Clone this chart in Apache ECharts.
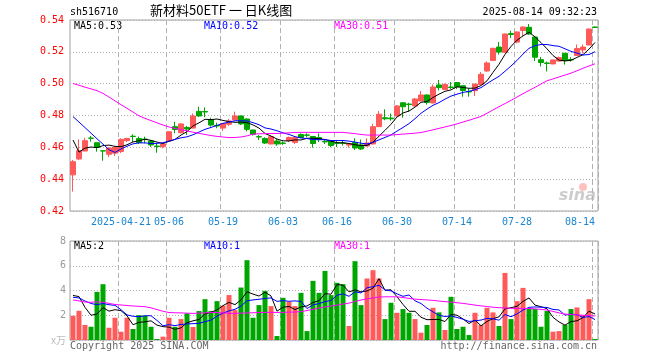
<!DOCTYPE html>
<html><head><meta charset="utf-8">
<script src="https://cdn.jsdelivr.net/npm/echarts@6/dist/echarts.min.js"></script>
<style>html,body{margin:0;padding:0;background:#fff}#c{width:660px;height:360px}</style>
</head><body><div id="c"></div>
<script>
const dates = ['2025-04-09','2025-04-10','2025-04-11','2025-04-14','2025-04-15','2025-04-16','2025-04-17','2025-04-18','2025-04-21','2025-04-22',
'2025-04-23','2025-04-24','2025-04-25','2025-04-28','2025-04-29','2025-04-30','2025-05-06','2025-05-07','2025-05-08','2025-05-09',
'2025-05-12','2025-05-13','2025-05-14','2025-05-15','2025-05-16','2025-05-19','2025-05-20','2025-05-21','2025-05-22','2025-05-23',
'2025-05-26','2025-05-27','2025-05-28','2025-05-29','2025-05-30','2025-06-03','2025-06-04','2025-06-05','2025-06-06','2025-06-09',
'2025-06-10','2025-06-11','2025-06-12','2025-06-13','2025-06-16','2025-06-17','2025-06-18','2025-06-19','2025-06-20','2025-06-23',
'2025-06-24','2025-06-25','2025-06-26','2025-06-27','2025-06-30','2025-07-01','2025-07-02','2025-07-03','2025-07-04','2025-07-07',
'2025-07-08','2025-07-09','2025-07-10','2025-07-11','2025-07-14','2025-07-15','2025-07-16','2025-07-17','2025-07-18','2025-07-21',
'2025-07-22','2025-07-23','2025-07-24','2025-07-25','2025-07-28','2025-07-29','2025-07-30','2025-07-31','2025-08-01','2025-08-04',
'2025-08-05','2025-08-06','2025-08-07','2025-08-08','2025-08-11','2025-08-12','2025-08-13','2025-08-14'];

const tickDates = ['2025-04-21','2025-05-06','2025-05-19','2025-06-03','2025-06-16','2025-06-30','2025-07-14','2025-07-28','2025-08-14'];

const opens = [.4427,.4527,.4577,.4658,.4629,.4578,.4556,.4563,.4574,.4642,
.4670,.4655,.4652,.4640,.4608,.4604,.4640,.4730,.4692,.4725,
.4721,.4826,.4825,.4772,.4737,.4721,.4745,.4772,.4797,.4778,
.4709,.4667,.4655,.4621,.4640,.4627,.4642,.4631,.4681,.4678,
.4668,.4661,.4637,.4640,.4627,.4627,.4614,.4630,.4615,.4608,
.4621,.4730,.4786,.4784,.4797,.4880,.4872,.4860,.4891,.4929,
.4879,.4992,.4963,.4979,.5007,.4987,.4951,.4956,.4995,.5080,
.5146,.5230,.5197,.5315,.5261,.5334,.5354,.5293,.5151,.5130,
.5124,.5142,.5191,.5152,.5177,.5212,.5243,.5356];

const closes = [.4510,.4579,.4642,.4657,.4600,.4577,.4596,.4599,.4650,.4656,
.4668,.4630,.4649,.4615,.4605,.4621,.4698,.4712,.4747,.4715,
.4797,.4797,.4822,.4740,.4734,.4750,.4766,.4797,.4747,.4713,
.4682,.4665,.4627,.4667,.4621,.4625,.4662,.4662,.4662,.4676,
.4624,.4649,.4634,.4612,.4625,.4625,.4624,.4596,.4590,.4627,
.4730,.4808,.4779,.4779,.4860,.4855,.4869,.4904,.4929,.4882,
.4979,.4975,.4995,.4976,.4979,.4957,.4948,.4998,.5059,.5130,
.5222,.5199,.5312,.5309,.5325,.5356,.5312,.5166,.5133,.5127,
.5149,.5164,.5144,.5149,.5221,.5230,.5343,.5353];

const highs = [.4521,.4650,.4660,.4671,.4629,.4578,.4600,.4608,.4657,.4660,
.4682,.4668,.4667,.4643,.4627,.4624,.4700,.4761,.4752,.4734,
.4813,.4855,.4851,.4786,.4755,.4752,.4778,.4824,.4799,.4782,
.4710,.4677,.4663,.4674,.4652,.4637,.4668,.4671,.4688,.4688,
.4670,.4688,.4649,.4643,.4643,.4640,.4627,.4657,.4649,.4657,
.4747,.4828,.4839,.4812,.4866,.4884,.4880,.4910,.4954,.4932,
.4995,.5023,.5001,.5010,.5010,.4990,.4971,.4998,.5073,.5139,
.5226,.5262,.5315,.5332,.5328,.5359,.5375,.5300,.5168,.5139,
.5149,.5170,.5193,.5166,.5246,.5246,.5347,.5359];

const lows = [.4322,.4520,.4575,.4635,.4573,.4516,.4539,.4545,.4564,.4633,
.4633,.4621,.4625,.4602,.4566,.4594,.4637,.4688,.4687,.4677,
.4718,.4791,.4789,.4730,.4720,.4703,.4734,.4770,.4740,.4700,
.4674,.4646,.4621,.4619,.4610,.4615,.4633,.4621,.4657,.4663,
.4598,.4633,.4621,.4600,.4602,.4612,.4598,.4583,.4583,.4605,
.4618,.4727,.4770,.4767,.4795,.4786,.4824,.4857,.4889,.4869,
.4876,.4957,.4960,.4966,.4966,.4918,.4918,.4923,.4992,.5073,
.5143,.5183,.5193,.5287,.5254,.5300,.5306,.5142,.5108,.5077,
.5122,.5138,.5120,.5139,.5175,.5190,.5241,.5350];

const ma5 = [.4646,.4570,.4595,.4602,.4598,.4611,.4614,.4606,.4604,.4616,
.4634,.4641,.4651,.4644,.4633,.4624,.4638,.4650,.4677,.4699,
.4734,.4754,.4776,.4774,.4778,.4769,.4762,.4757,.4759,.4755,
.4741,.4721,.4687,.4671,.4652,.4641,.4640,.4647,.4646,.4657,
.4657,.4655,.4649,.4639,.4629,.4629,.4624,.4616,.4612,.4612,
.4633,.4670,.4707,.4745,.4791,.4816,.4828,.4853,.4883,.4888,
.4913,.4934,.4952,.4961,.4981,.4976,.4971,.4972,.4988,.5018,
.5071,.5122,.5184,.5234,.5273,.5300,.5323,.5294,.5258,.5219,
.5177,.5148,.5143,.5147,.5165,.5182,.5217,.5259];

const ma10 = [.4793,.4759,.4724,.4689,.4654,.4620,.4585,.4568,.4590,.4607,
.4622,.4628,.4628,.4624,.4625,.4629,.4639,.4650,.4660,.4666,
.4679,.4696,.4713,.4725,.4738,.4751,.4758,.4767,.4767,.4766,
.4755,.4742,.4722,.4715,.4704,.4691,.4681,.4667,.4659,.4655,
.4649,.4648,.4648,.4643,.4643,.4643,.4639,.4633,.4626,.4621,
.4631,.4647,.4662,.4678,.4702,.4725,.4749,.4780,.4814,.4840,
.4864,.4881,.4903,.4922,.4934,.4945,.4952,.4962,.4975,.5000,
.5024,.5046,.5078,.5111,.5146,.5186,.5222,.5239,.5246,.5246,
.5239,.5235,.5219,.5203,.5192,.5180,.5183,.5201];

const ma30 = [.5001,.4990,.4978,.4967,.4956,.4939,.4916,.4892,.4868,.4845,
.4822,.4798,.4782,.4768,.4754,.4740,.4728,.4719,.4711,.4703,
.4695,.4688,.4681,.4674,.4669,.4665,.4661,.4662,.4665,.4672,
.4683,.4685,.4686,.4687,.4687,.4689,.4691,.4694,.4694,.4694,
.4694,.4694,.4694,.4694,.4694,.4694,.4690,.4686,.4681,.4677,
.4677,.4677,.4677,.4677,.4680,.4683,.4686,.4689,.4693,.4701,
.4710,.4719,.4728,.4737,.4747,.4759,.4770,.4782,.4794,.4814,
.4835,.4855,.4875,.4895,.4916,.4937,.4957,.4977,.4998,.5018,
.5030,.5042,.5054,.5066,.5081,.5097,.5111,.5125];

const volumes = [1.96,2.36,1.21,1.07,3.89,4.51,0.99,1.80,0.67,1.80,
0.89,2.01,1.96,1.07,0.08,0.27,1.80,1.07,1.69,2.15,
1.05,2.34,3.30,2.34,3.14,2.77,3.63,2.42,4.24,6.45,
1.80,2.82,3.97,2.74,0.32,3.41,3.09,2.74,3.81,0.72,
4.78,3.81,5.58,3.63,4.62,4.51,1.13,6.37,2.82,4.97,
5.64,4.97,1.69,3.01,2.20,2.50,2.20,1.69,0.59,1.21,
2.60,2.23,0.81,3.49,0.89,1.07,0.40,2.20,1.21,2.60,
2.23,1.13,5.42,1.69,3.14,4.21,2.55,2.50,1.07,2.34,
0.67,0.72,1.21,2.50,2.63,2.01,3.30,0.08];

const volMa5 = [3.60,3.51,2.64,2.00,2.10,2.61,2.33,2.45,2.37,1.95,
1.23,1.43,1.47,1.55,1.20,1.08,1.04,0.86,0.98,1.40,
1.55,1.66,2.11,2.24,2.43,2.78,3.04,2.86,3.24,3.90,
3.71,3.55,3.86,3.56,2.33,2.65,2.71,2.46,2.67,2.75,
3.03,3.17,3.74,3.70,4.48,4.43,3.89,4.05,3.89,3.96,
4.19,4.95,4.02,4.06,3.50,2.87,2.32,2.32,1.84,1.64,
1.66,1.66,1.49,2.07,2.00,1.70,1.33,1.61,1.15,1.50,
1.73,1.87,2.52,2.61,2.72,3.12,3.40,2.82,2.69,2.53,
1.83,1.46,1.20,1.49,1.55,1.81,2.33,2.10];

const volMa10 = [3.45,3.40,3.15,2.95,2.85,2.95,2.85,2.80,2.45,2.03,
1.92,1.88,1.96,1.96,1.58,1.15,1.24,1.16,1.26,1.30,
1.32,1.35,1.48,1.61,1.92,2.17,2.35,2.48,2.74,3.17,
3.24,3.29,3.36,3.40,3.12,3.18,3.13,3.16,3.12,2.54,
2.84,2.94,3.10,3.19,3.62,3.73,3.53,3.90,3.80,4.22,
4.31,4.42,4.04,3.97,3.73,3.53,3.64,3.17,2.95,2.57,
2.27,1.99,1.90,1.95,1.82,1.68,1.50,1.55,1.61,1.75,
1.71,1.60,2.06,1.88,2.11,2.42,2.64,2.67,2.65,2.63,
2.47,2.43,2.01,2.09,2.04,1.82,1.90,1.65];

const volMa30 = [3.24,3.16,3.07,3.05,3.08,3.05,2.96,2.87,2.83,2.79,
2.75,2.72,2.69,2.60,2.46,2.32,2.22,2.20,2.19,2.17,
2.15,2.17,2.19,2.22,2.22,2.19,2.16,2.15,2.17,2.19,
2.20,2.22,2.23,2.23,2.23,2.23,2.25,2.26,2.29,2.38,
2.48,2.58,2.67,2.74,2.82,2.91,2.98,3.11,3.23,3.32,
3.40,3.47,3.49,3.49,3.49,3.43,3.36,3.30,3.27,3.24,
3.20,3.15,3.10,3.06,3.01,2.96,2.89,2.82,2.76,2.70,
2.65,2.61,2.59,2.56,2.55,2.55,2.55,2.52,2.47,2.42,
2.31,2.19,2.09,2.06,2.03,2.00,1.97,1.94];

const priceTicks = [0.42, 0.44, 0.46, 0.48, 0.50, 0.52, 0.54];
const volTicks = [0, 2, 4, 6, 8];

const UP = '#ff5a5a', DOWN = '#00a600';
const MONO = '"DejaVu Sans Mono", "Liberation Mono", monospace';
const tickIdx = tickDates.map(d => dates.indexOf(d));
const showTick = (i) => tickIdx.indexOf(i) >= 0;

const kData = dates.map((d, i) => [opens[i], closes[i], lows[i], highs[i]]);
const volData = volumes.map((v, i) => ({
  value: v,
  itemStyle: { color: closes[i] >= opens[i] ? UP : DOWN }
}));

const gridBorder = '#a0a0a0';
const vDash = { color: '#b0b0b0', type: [5, 3], width: 1 };
const hDot = { color: '#b0b0b0', type: [1, 2], width: 1 };

const chart = echarts.init(document.getElementById('c'), null, { renderer: 'canvas' });
chart.setOption({
  animation: false,
  backgroundColor: '#ffffff',
  grid: [
    { left: 70, top: 20, width: 528, height: 191, show: true, borderColor: gridBorder, borderWidth: 1, backgroundColor: 'transparent' },
    { left: 70, top: 241, width: 528, height: 99, show: true, borderColor: gridBorder, borderWidth: 1, backgroundColor: 'transparent' }
  ],
  xAxis: [
    { type: 'category', data: dates, gridIndex: 0, boundaryGap: true,
      axisLine: { show: false }, axisTick: { show: false },
      axisLabel: { interval: (i) => showTick(i), formatter: (v, i) => (i === tickIdx[0] ? v : v.slice(5)),
        color: '#1a86d0', fontFamily: MONO, fontSize: 10, margin: 6, alignMaxLabel: 'right' },
      splitLine: { show: true, interval: (i) => showTick(i), lineStyle: vDash } },
    { type: 'category', data: dates, gridIndex: 1, boundaryGap: true,
      axisLine: { show: false }, axisTick: { show: false }, axisLabel: { show: false },
      splitLine: { show: true, interval: (i) => showTick(i), lineStyle: vDash } }
  ],
  yAxis: [
    { type: 'value', gridIndex: 0, min: priceTicks[0], max: priceTicks[priceTicks.length - 1], interval: 0.02,
      axisLine: { show: false }, axisTick: { show: false },
      axisLabel: { color: '#ff0000', fontFamily: MONO, fontSize: 10, margin: 6, formatter: (v) => v.toFixed(2) },
      splitLine: { show: true, lineStyle: hDot } },
    { type: 'value', gridIndex: 1, min: volTicks[0], max: volTicks[volTicks.length - 1], interval: 2,
      axisLine: { show: false }, axisTick: { show: false },
      axisLabel: { color: '#999999', fontFamily: MONO, fontSize: 10, margin: 4,
        formatter: (v) => (v === 0 ? '{u|x万}' : String(v)),
        rich: { u: { color: '#bbbbbb', fontSize: 10, fontFamily: '"Noto Sans CJK SC", sans-serif' } } },
      splitLine: { show: true, lineStyle: hDot } }
  ],
  series: [
    { name: 'K', type: 'candlestick', xAxisIndex: 0, yAxisIndex: 0, data: kData, barWidth: 5,
      itemStyle: { color: UP, color0: DOWN, borderColor: UP, borderColor0: DOWN, borderWidth: 1 } },
    { name: 'MA5', type: 'line', xAxisIndex: 0, yAxisIndex: 0, data: ma5, symbol: 'none', lineStyle: { color: '#000000', width: 1 } },
    { name: 'MA10', type: 'line', xAxisIndex: 0, yAxisIndex: 0, data: ma10, symbol: 'none', lineStyle: { color: '#0000ff', width: 1 } },
    { name: 'MA30', type: 'line', xAxisIndex: 0, yAxisIndex: 0, data: ma30, symbol: 'none', lineStyle: { color: '#ff00ff', width: 1 } },
    { name: 'VOL', type: 'bar', xAxisIndex: 1, yAxisIndex: 1, data: volData, barWidth: 5 },
    { name: 'VMA5', type: 'line', xAxisIndex: 1, yAxisIndex: 1, data: volMa5, symbol: 'none', lineStyle: { color: '#000000', width: 1 } },
    { name: 'VMA10', type: 'line', xAxisIndex: 1, yAxisIndex: 1, data: volMa10, symbol: 'none', lineStyle: { color: '#0000ff', width: 1 } },
    { name: 'VMA30', type: 'line', xAxisIndex: 1, yAxisIndex: 1, data: volMa30, symbol: 'none', lineStyle: { color: '#ff00ff', width: 1 } }
  ],
  graphic: [
    { type: 'text', left: 70, top: 7, style: { text: 'sh516710', font: '10px ' + MONO, fill: '#000' } },
    { type: 'text', left: 150, top: 4, style: { text: '新材料50ETF 一 日K线图', font: '13px "Noto Sans CJK SC", sans-serif', fill: '#000' } },
    { type: 'text', right: 63, top: 7, style: { text: '2025-08-14 09:32:23', font: '10px ' + MONO, fill: '#000' } },
    { type: 'text', left: 74, top: 21, style: { text: 'MA5:0.53', font: '10px ' + MONO, fill: '#000000' } },
    { type: 'text', left: 204, top: 21, style: { text: 'MA10:0.52', font: '10px ' + MONO, fill: '#0000ff' } },
    { type: 'text', left: 334, top: 21, style: { text: 'MA30:0.51', font: '10px ' + MONO, fill: '#ff00ff' } },
    { type: 'text', left: 74, top: 241, style: { text: 'MA5:2', font: '10px ' + MONO, fill: '#000000' } },
    { type: 'text', left: 204, top: 241, style: { text: 'MA10:1', font: '10px ' + MONO, fill: '#0000ff' } },
    { type: 'text', left: 334, top: 241, style: { text: 'MA30:1', font: '10px ' + MONO, fill: '#ff00ff' } },
    { type: 'text', left: 70, top: 341, style: { text: 'Copyright 2025 SINA.COM', font: '10px ' + MONO, fill: '#666' } },
    { type: 'text', right: 63, top: 341, style: { text: 'http://finance.sina.com.cn', font: '10px ' + MONO, fill: '#666' } },
    { type: 'circle', shape: { cx: 583, cy: 187, r: 4 }, style: { fill: 'rgba(255,140,140,0.55)' } },
    { type: 'text', right: 64, top: 188, style: { text: 'sina', font: 'italic bold 16px "DejaVu Sans", sans-serif', fill: 'rgba(170,170,170,0.6)' } }
  ]
});
</script></body></html>
